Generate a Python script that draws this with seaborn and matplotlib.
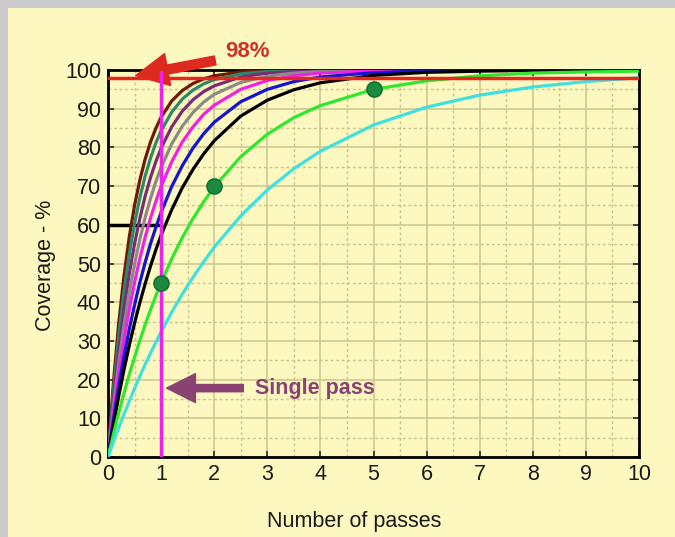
import pandas as pd
import matplotlib
matplotlib.use('Agg')
import matplotlib.pyplot as plt
import seaborn as sns
from matplotlib.patches import Rectangle
from matplotlib.ticker import MultipleLocator

# values (coverage % vs number of passes)
passes = [0, 0.1, 0.2, 0.3, 0.4, 0.5, 0.6, 0.7, 0.8, 0.9, 1.0, 1.2, 1.4, 1.6, 1.8,
          2.0, 2.5, 3.0, 3.5, 4.0, 5, 6, 7, 8, 9, 10]
brown = [0, 18.9, 34.3, 46.7, 56.8, 65.0, 71.6, 77.0, 81.4, 84.9, 87.8, 92.0, 94.7, 96.5, 97.7,
         98.5, 99.5, 99.8, 99.9, 100, 100, 100, 100, 100, 100, 100]
teal = [0, 16.9, 30.9, 42.6, 52.3, 60.3, 67.0, 72.6, 77.2, 81.1, 84.3, 89.1, 92.5, 94.8, 96.4,
        97.5, 99.0, 99.6, 99.8, 99.9, 100, 100, 100, 100, 100, 100]
purple = [0, 14.8, 27.4, 38.1, 47.3, 55.1, 61.7, 67.4, 72.2, 76.3, 79.8, 85.3, 89.4, 92.3, 94.4,
          95.9, 98.2, 99.2, 99.6, 99.8, 100, 100, 100, 100, 100, 100]
gray = [0, 12.9, 24.1, 33.9, 42.4, 49.8, 56.3, 61.9, 66.8, 71.1, 74.8, 80.9, 85.5, 89.0, 91.7,
        93.7, 96.8, 98.4, 99.2, 99.6, 99.9, 100, 100, 100, 100, 100]
magenta = [0, 11.3, 21.3, 30.2, 38.1, 45.1, 51.3, 56.8, 61.7, 66.0, 69.9, 76.3, 81.4, 85.3, 88.5,
           90.9, 95.0, 97.3, 98.5, 99.2, 99.8, 99.9, 100, 100, 100, 100]
blue = [0, 9.5, 18.1, 25.9, 33.0, 39.3, 45.1, 50.3, 55.1, 59.3, 63.2, 69.9, 75.3, 79.8, 83.5,
        86.5, 91.8, 95.0, 97.0, 98.2, 99.3, 99.8, 99.9, 100, 100, 100]
black = [0, 8.1, 15.6, 22.5, 28.8, 34.6, 39.9, 44.8, 49.3, 53.5, 57.3, 63.9, 69.6, 74.3, 78.3,
         81.7, 88.1, 92.2, 94.9, 96.7, 98.6, 99.4, 99.7, 99.9, 100, 100]
green = [0, 5.8, 11.3, 16.4, 21.3, 25.8, 30.1, 34.2, 38.0, 41.6, 45.0, 51.2, 56.7, 61.6, 65.9,
         69.8, 77.6, 83.4, 87.7, 90.8, 95.0, 97.2, 98.5, 99.2, 99.5, 99.7]
cyan = [0, 3.8, 7.5, 11.0, 14.4, 17.7, 20.9, 23.9, 26.8, 29.6, 32.3, 37.4, 42.1, 46.4, 50.4,
        54.2, 62.3, 69.0, 74.5, 79.0, 85.8, 90.4, 93.5, 95.6, 97.0, 98.0]

dot_passes = [1, 2, 5]
dot_coverage = [45, 70, 95]

curves = {'brown': brown, 'teal': teal, 'purple': purple, 'gray': gray,
          'magenta': magenta, 'blue': blue, 'black': black, 'green': green, 'cyan': cyan}
df = pd.concat([pd.DataFrame({'passes': passes, 'coverage': v, 'curve': k})
                for k, v in curves.items()], ignore_index=True)

palette = {'brown': '#6e1a06', 'teal': '#2a8a6a', 'purple': '#7a2c78', 'gray': '#8a8a8a',
           'magenta': '#f020e8', 'blue': '#1414d2', 'black': '#000000',
           'green': '#2ee82e', 'cyan': '#3fe0e0'}

yellow = '#fdf8bf'
sns.set_style('ticks')
plt.rcParams['font.family'] = ['Liberation Sans', 'DejaVu Sans']

fig = plt.figure(figsize=(6.75, 5.37), dpi=100, facecolor='#cbcbcb')
fig.patches.append(Rectangle((8 / 675, 0), 1, 1 - 8 / 537, transform=fig.transFigure,
                             facecolor=yellow, edgecolor='none', zorder=-5))
ax = fig.add_axes([108 / 675, 1 - 457 / 537, 531 / 675, 387 / 537])
ax.set_facecolor(yellow)

sns.lineplot(data=df, x='passes', y='coverage', hue='curve', palette=palette,
             estimator=None, legend=False, linewidth=2.3, ax=ax, zorder=3)

# reference lines
ax.axhline(98, color='#e8261c', lw=2.5, zorder=4)
ax.plot([1, 1], [0, 99.5], color='#ee22ee', lw=2.5, zorder=4)
ax.plot([0, 1], [60, 60], color='black', lw=2.5, zorder=2)
sns.scatterplot(x=dot_passes, y=dot_coverage, s=120, color='#1a8a40', edgecolor='#0f6a2c',
                linewidth=1, ax=ax, zorder=5)

ax.set_xlim(0, 10)
ax.set_ylim(0, 100)
ax.xaxis.set_major_locator(MultipleLocator(1))
ax.yaxis.set_major_locator(MultipleLocator(10))
ax.xaxis.set_minor_locator(MultipleLocator(0.5))
ax.yaxis.set_minor_locator(MultipleLocator(5))
ax.set_axisbelow(True)
ax.grid(which='major', color='#cbc48e', lw=1.1)
ax.grid(which='minor', color='#cbc48e', lw=1, ls=(0, (2, 2)))
ax.tick_params(which='major', direction='in', top=True, right=True, length=4, width=1.2,
               labelsize=15.5, pad=5, labelcolor='#1a1a1a')
ax.tick_params(which='minor', length=0)
for s in ax.spines.values():
    s.set_linewidth(2)
    s.set_color('black')

ax.set_xlabel('Number of passes', fontsize=15.5, color='#1a1a1a')
ax.set_ylabel('Coverage - %', fontsize=15.5, color='#1a1a1a')
ax.xaxis.set_label_coords(0.463, -0.14)
ax.yaxis.set_label_coords(-0.098, 0.496)

ax.annotate('', xy=(0.47, 98.4), xytext=(2.07, 102.6), annotation_clip=False,
            arrowprops=dict(arrowstyle='simple,head_length=0.9,head_width=0.9,tail_width=0.25',
                            color='#dd2a1e', mutation_scale=26))
ax.text(2.62, 104.8, '98%', color='#c8342a', fontsize=16, fontweight='bold',
        ha='center', va='center', clip_on=False)

ax.annotate('', xy=(1.05, 17.8), xytext=(2.6, 17.8),
            arrowprops=dict(arrowstyle='simple,head_length=0.8,head_width=0.8,tail_width=0.2',
                            color='#8a4272', mutation_scale=26))
ax.text(2.77, 17.8, 'Single pass', color='#8a4272', fontsize=15.5, fontweight='bold',
        ha='left', va='center')

fig.savefig('out.png', dpi=100, facecolor=fig.get_facecolor())
